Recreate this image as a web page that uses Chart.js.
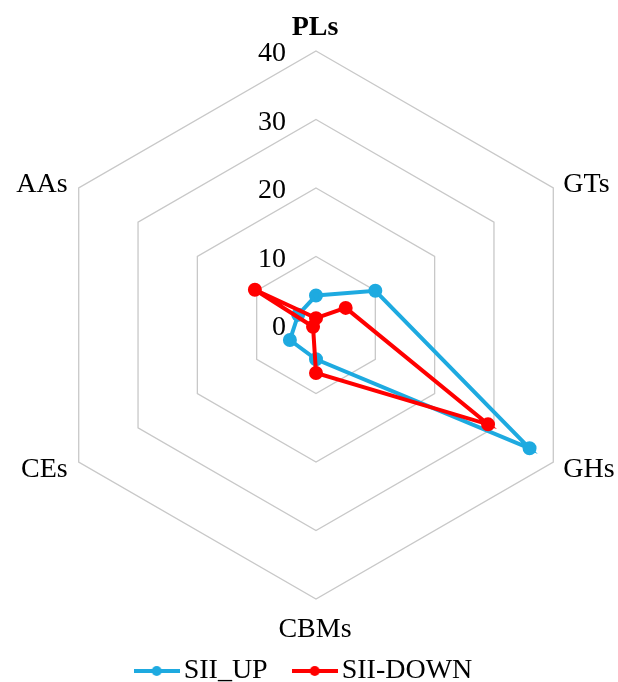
<!DOCTYPE html>
<html>
<head>
<meta charset="utf-8">
<script src="https://cdn.jsdelivr.net/npm/chart.js@4.4.1/dist/chart.umd.min.js"></script>
<style>
  html, body { margin: 0; padding: 0; background: #fff; }
  #wrap { width: 618px; height: 682px; }
</style>
</head>
<body>
<div id="wrap"><canvas id="radar"></canvas></div>
<script>
// datos
const categories = ['PLs', 'GTs', 'GHs', 'CBMs', 'CEs', 'AAs'];
const siiUp = [4.3, 10, 36, 5, 4.4, 3];
const siiDown = [1, 5, 29, 7, 0.5, 10.3];
const tickValues = [0, 10, 20, 30, 40];

const BLUE = '#1EAAE0';
const RED = '#FF0000';
const FONT = "'Liberation Serif', 'Times New Roman', serif";

// icono de leyenda: linea con punto
function legendIcon(color) {
    const c = document.createElement('canvas');
    c.width = 46; c.height = 12;
    const g = c.getContext('2d');
    g.strokeStyle = color;
    g.lineWidth = 4;
    g.beginPath(); g.moveTo(0, 6); g.lineTo(46, 6); g.stroke();
    g.fillStyle = color;
    g.beginPath(); g.arc(23, 6, 5, 0, Math.PI * 2); g.fill();
    return c;
}

// etiquetas de ticks a la izquierda del eje vertical y nombres de los ejes
const axisText = {
    id: 'axisText',
    afterLayout(chart) {
        // mover la leyenda un poco a la izquierda
        chart.legend.left -= 8;
        chart.legend.right -= 8;
    },
    beforeDatasetsDraw(chart) {
        const s = chart.scales.r;
        const ctx = chart.ctx;
        ctx.save();
        ctx.fillStyle = '#000';
        ctx.textBaseline = 'middle';
        ctx.font = '28px ' + FONT;
        ctx.textAlign = 'right';
        s.ticks.forEach((t) => {
            const d = s.getDistanceFromCenterForValue(t.value);
            ctx.fillText(String(t.value), s.xCenter - 30, s.yCenter - d + 3);
        });
        chart.data.labels.forEach((lbl, i) => {
            const p = s.getPointPosition(i, s.drawingArea);
            const dx = p.x - s.xCenter;
            const dy = p.y - s.yCenter;
            ctx.font = (i === 0 ? 'bold ' : '') + '28px ' + FONT;
            if (Math.abs(dx) < 1) {
                ctx.textAlign = 'center';
                ctx.fillText(lbl, p.x - 1, p.y + (dy < 0 ? -23 : 31));
            } else {
                ctx.textAlign = dx > 0 ? 'left' : 'right';
                ctx.fillText(lbl, p.x + (dx > 0 ? 10 : -11), p.y + (dy < 0 ? -3 : 8));
            }
        });
        ctx.restore();
    }
};

const ctx = document.getElementById('radar').getContext('2d');
new Chart(ctx, {
    type: 'radar',
    data: {
        labels: categories,
        datasets: [
            {
                label: 'SII_UP',
                data: siiUp,
                order: 1,
                borderColor: BLUE,
                backgroundColor: BLUE,
                pointBackgroundColor: BLUE,
                pointBorderColor: BLUE,
                borderWidth: 4,
                pointRadius: 5,
                fill: false,
            },
            {
                label: 'SII-DOWN',
                data: siiDown,
                order: 0,
                borderColor: RED,
                backgroundColor: RED,
                pointBackgroundColor: RED,
                pointBorderColor: RED,
                borderWidth: 4,
                pointRadius: 5,
                fill: false,
            },
        ],
    },
    options: {
        responsive: true,
        maintainAspectRatio: false,
        animation: false,
        layout: { padding: { top: 27, left: 42, right: 28, bottom: -13 } },
        scales: {
            r: {
                min: 0,
                max: 40,
                afterBuildTicks(scale) {
                    scale.ticks = tickValues.map((v) => ({ value: v }));
                },
                ticks: { display: false, stepSize: 10 },
                angleLines: { display: false },
                grid: { color: '#C8C8C8', lineWidth: 1.3 },
                pointLabels: { display: false },
            },
        },
        plugins: {
            tooltip: { enabled: false },
            legend: {
                position: 'bottom',
                labels: {
                    usePointStyle: true,
                    pointStyleWidth: 26,
                    padding: 34,
                    color: '#000',
                    font: { family: FONT, size: 28 },
                    generateLabels(chart) {
                        return chart.data.datasets.map((ds, i) => ({
                            text: ds.label,
                            fillStyle: ds.borderColor,
                            strokeStyle: ds.borderColor,
                            lineWidth: 0,
                            pointStyle: legendIcon(ds.borderColor),
                            datasetIndex: i,
                            hidden: false,
                        }));
                    },
                },
            },
        },
    },
    plugins: [axisText],
});
</script>
</body>
</html>
